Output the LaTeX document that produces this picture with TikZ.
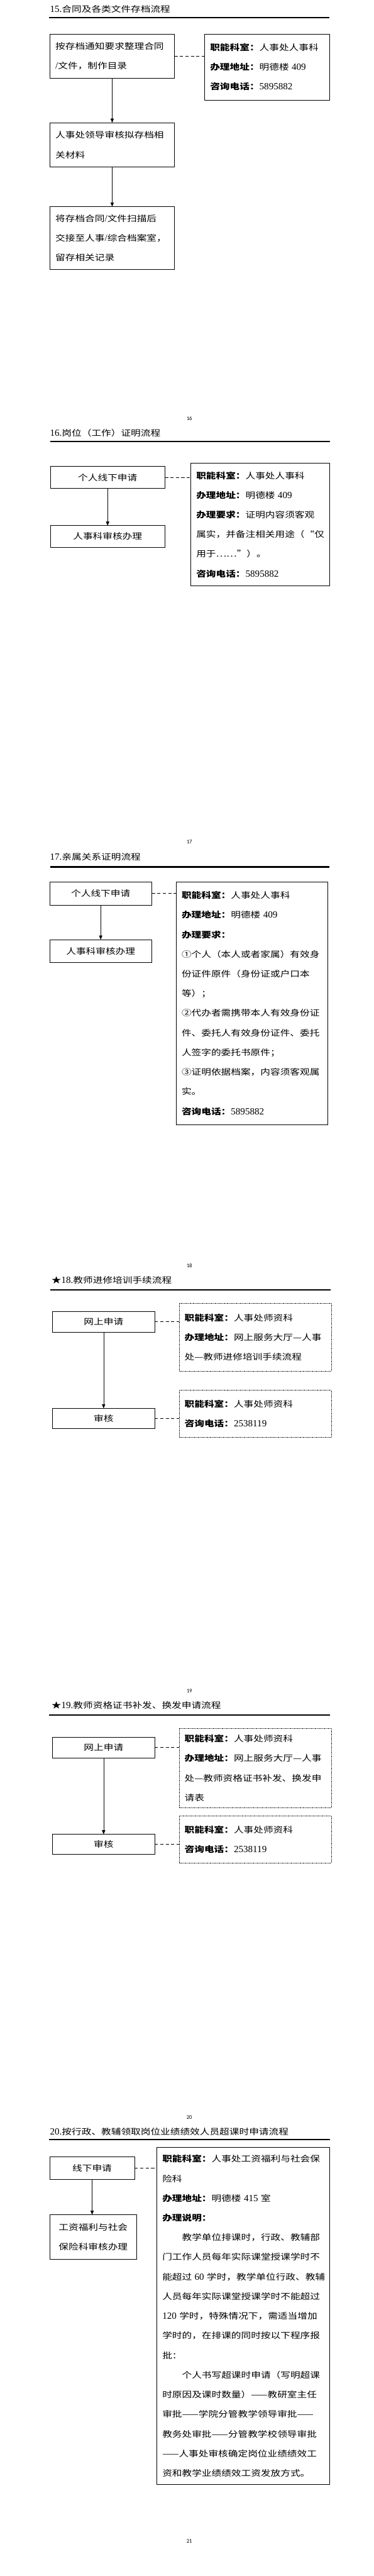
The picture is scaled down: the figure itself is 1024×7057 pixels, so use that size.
\documentclass[tikz,border=0pt]{standalone}
\usepackage{fontspec}
\usepackage{tikz}
\usetikzlibrary{arrows.meta}
\newfontfamily\cjk[FakeStretch=1.2]{Noto Sans CJK SC}
\newfontfamily\lat{Liberation Serif}
\newfontfamily\pgfont{Carlito}
\newcommand{\bodyfont}{\cjk\fontsize{22.5}{53.8}\selectfont}
\newcommand{\digs}[1]{{\lat\fontsize{26}{53.8}\selectfont #1}}
\newcommand{\lbl}[1]{{\bfseries #1}}
\setlength{\parindent}{0pt}

\begin{document}
\begin{tikzpicture}[x=1pt, y=-1pt,
  stepbox/.style={draw, line width=1.2pt, outer sep=0pt, inner xsep=15pt, inner ysep=0pt, anchor=north west, align=center, font=\bodyfont},
  infobox/.style={stepbox, align=left},
  dotbox/.style={infobox, dash pattern=on 1.5pt off 1.5pt},
  flowarrow/.style={-{Triangle[width=9pt,length=11pt]}, line width=1pt},
  dashlink/.style={line width=1.5pt, dash pattern=on 9pt off 6pt},
  headline/.style={anchor=west, inner sep=0pt, font=\bodyfont},
  titlerule/.style={line width=3.5pt},
  pageno/.style={inner sep=0pt, font=\pgfont\fontsize{15}{18}\selectfont}]

\fill[white] (0,0) rectangle (1024,7057);
\useasboundingbox (0,0) rectangle (1024,7057);

% 15
\node[headline] (t15) at (137,25) {\digs{15.}合同及各类文件存档流程};
\draw[titlerule] (135,49) -- (902,49);
\node[infobox, text width=311pt, minimum height=122pt] (s15a) at (137,93) {按存档通知要求整理合同\\\digs{/}文件，制作目录};
\node[infobox, text width=312pt, minimum height=181pt] (s15i) at (561,93) {\lbl{职能科室：}人事处人事科\\\lbl{办理地址：}明德楼~\digs{409}\\\lbl{咨询电话：}\digs{5895882}};
\node[infobox, text width=311pt, minimum height=122pt] (s15b) at (137,336) {人事处领导审核拟存档相\\关材料};
\node[infobox, text width=311pt, minimum height=172pt] (s15c) at (137,566) {将存档合同\digs{/}文件扫描后\\交接至人事\digs{/}综合档案室，\\留存相关记录};
\draw[dashlink] (s15a.east) -- (s15a.east -| s15i.west);
\draw[flowarrow] (s15a) -- (s15b);
\draw[flowarrow] (s15b) -- (s15c);
\node[pageno] (pg16) at (519,1146) {16};

% 16
\node[headline] (t16) at (137,1186) {\digs{16.}岗位（工作）证明流程};
\draw[titlerule] (138,1210) -- (905,1210);
\node[stepbox, text width=284pt, minimum height=60pt] (s16a) at (138,1278) {个人线下申请};
\node[infobox, text width=350pt, minimum height=336pt] (s16i) at (523,1269) {\lbl{职能科室：}人事处人事科\\\lbl{办理地址：}明德楼~\digs{409}\\\lbl{办理要求：}证明内容须客观\\属实，并备注相关用途（“仅\\用于……”）。\\\lbl{咨询电话：}\digs{5895882}};
\node[stepbox, text width=284pt, minimum height=59pt] (s16b) at (138,1440) {人事科审核办理};
\draw[dashlink] (s16a.east) -- (s16a.east -| s16i.west);
\draw[flowarrow] (s16a) -- (s16b);
\node[pageno] (pg17) at (519,2307) {17};

% 17
\node[headline] (t17) at (137,2347) {\digs{17.}亲属关系证明流程};
\draw[titlerule] (137,2375) -- (903,2375);
\node[stepbox, text width=250pt, minimum height=63pt] (s17a) at (136,2416) {个人线下申请};
\node[infobox, text width=386pt, minimum height=665pt] (s17i) at (483,2416) {\lbl{职能科室：}人事处人事科\\\lbl{办理地址：}明德楼~\digs{409}\\\lbl{办理要求：}\\①个人（本人或者家属）有效身\\份证件原件（身份证或户口本\\等）；\\②代办者需携带本人有效身份证\\件、委托人有效身份证件、委托\\人签字的委托书原件；\\③证明依据档案，内容须客观属\\实。\\\lbl{咨询电话：}\digs{5895882}};
\node[stepbox, text width=250pt, minimum height=63pt] (s17b) at (136,2574) {人事科审核办理};
\draw[dashlink] (s17a.east) -- (s17a.east -| s17i.west);
\draw[flowarrow] (s17a) -- (s17b);
\node[pageno] (pg18) at (519,3468) {18};

% 18
\node[headline] (t18) at (141,3507) {★\digs{18.}教师进修培训手续流程};
\draw[titlerule] (137,3534) -- (907,3534);
\node[stepbox, text width=250pt, minimum height=56pt] (s18a) at (144,3593) {网上申请};
\node[dotbox, text width=387pt, minimum height=186pt] (s18i) at (491,3570) {\lbl{职能科室：}人事处师资科\\\lbl{办理地址：}网上服务大厅—人事\\处—教师进修培训手续流程};
\node[stepbox, text width=250pt, minimum height=55pt] (s18b) at (144,3858) {审核};
\node[dotbox, text width=387pt, minimum height=129pt] (s18j) at (491,3809) {\lbl{职能科室：}人事处师资科\\\lbl{咨询电话：}\digs{2538119}};
\draw[dashlink] (s18a.east) -- (s18a.east -| s18i.west);
\draw[dashlink] (s18b.east) -- (s18b.east -| s18j.west);
\draw[flowarrow] (s18a) -- (s18b);
\node[pageno] (pg19) at (519,4633) {19};

% 19
\node[headline] (t19) at (141,4672) {★\digs{19.}教师资格证书补发、换发申请流程};
\draw[titlerule] (135,4699) -- (905,4699);
\node[stepbox, text width=250pt, minimum height=57pt] (s19a) at (144,4759) {网上申请};
\node[dotbox, text width=387pt, minimum height=217pt] (s19i) at (491,4735) {\lbl{职能科室：}人事处师资科\\\lbl{办理地址：}网上服务大厅—人事\\处—教师资格证书补发、换发申\\请表};
\node[stepbox, text width=250pt, minimum height=54pt] (s19b) at (144,5025) {审核};
\node[dotbox, text width=387pt, minimum height=128pt] (s19j) at (491,4975) {\lbl{职能科室：}人事处师资科\\\lbl{咨询电话：}\digs{2538119}};
\draw[dashlink] (s19a.east) -- (s19a.east -| s19i.west);
\draw[dashlink] (s19b.east) -- (s19b.east -| s19j.west);
\draw[flowarrow] (s19a) -- (s19b);
\node[pageno] (pg20) at (519,5800) {20};

% 20
\node[headline] (t20) at (137,5839) {\digs{20.}按行政、教辅领取岗位业绩绩效人员超课时申请流程};
\draw[titlerule] (135,5862) -- (905,5862);
\node[stepbox, text width=203pt, minimum height=62pt] (s20a) at (136,5909) {线下申请};
\node[infobox, text width=443pt, minimum height=923pt] (s20i) at (430,5883) {\lbl{职能科室：}人事处工资福利与社会保\\险科\\\lbl{办理地址：}明德楼~\digs{415}~室\\\lbl{办理说明：}\\\hspace*{54pt}教学单位排课时，行政、教辅部\\门工作人员每年实际课堂授课学时不\\能超过~\digs{60}~学时，教学单位行政、教辅\\人员每年实际课堂授课学时不能超过\\\digs{120}~学时，特殊情况下，需适当增加\\学时的，在排课的同时按以下程序报\\批：\\\hspace*{54pt}个人书写超课时申请（写明超课\\时原因及课时数量）——教研室主任\\审批——学院分管教学领导审批——\\教务处审批——分管教学校领导审批\\——人事处审核确定岗位业绩绩效工\\资和教学业绩绩效工资发放方式。};
\node[stepbox, text width=209pt, minimum height=123pt] (s20b) at (136,6067) {工资福利与社会\\保险科审核办理};
\draw[dashlink] (s20a.east) -- (s20a.east -| s20i.west);
\draw[flowarrow] (s20a.south) -- (s20a.south |- s20b.north);
\node[pageno] (pg21) at (519,6961) {21};
\end{tikzpicture}
\end{document}
